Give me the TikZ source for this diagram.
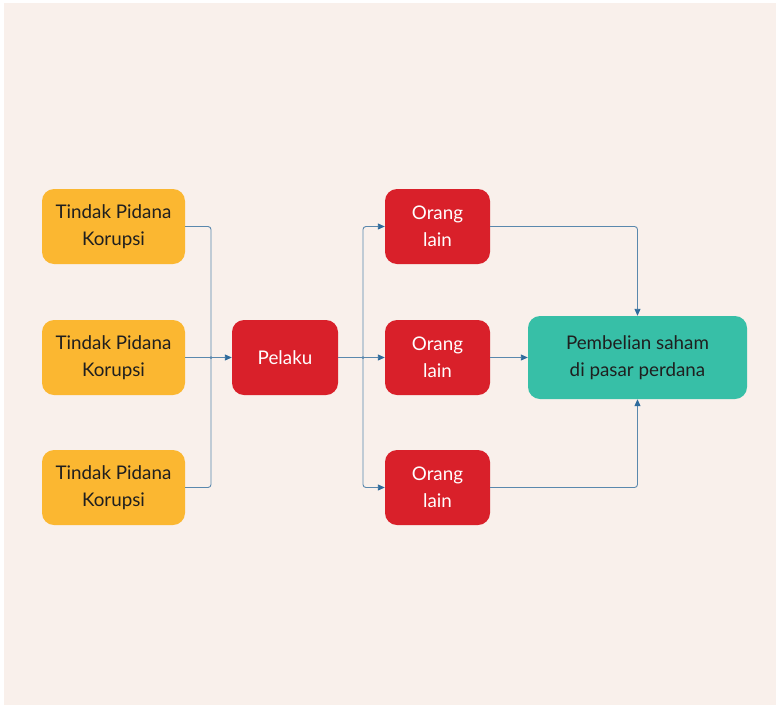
\documentclass[tikz,border=0pt]{standalone}
\usepackage{fontspec}
\setmainfont{Lato}
\usetikzlibrary{arrows.meta}
\definecolor{bgpaper}{HTML}{F9F0EB}
\definecolor{crimebox}{HTML}{FBB731}
\definecolor{actorbox}{HTML}{D9202A}
\definecolor{goalbox}{HTML}{37BFA7}
\definecolor{linkline}{HTML}{5A88AD}
\definecolor{linktip}{HTML}{2F6B9C}
\tikzset{
  x=1pt, y=-1pt,
  card/.style={rounded corners=12pt, minimum height=75pt, align=center,
    inner sep=0pt, font=\fontsize{18.8}{26.5}\selectfont},
  crime/.style={card, fill=crimebox, text=black!88, minimum width=143pt},
  actor/.style={card, fill=actorbox, text=white, minimum width=105pt},
  goal/.style={card, fill=goalbox, text=black!88, minimum width=219pt, minimum height=83pt},
  link/.style={draw=linkline, line width=0.9pt, rounded corners=3pt,
    -{Triangle[length=7pt,width=6pt,fill=linktip,color=linktip]}},
  plain/.style={draw=linkline, line width=0.9pt, rounded corners=3pt},
  joint/.style={circle, fill=linkline, inner sep=0pt, minimum size=3pt}
}
\begin{document}
\begin{tikzpicture}
  % paper
  \fill[white] (0,0) rectangle (776,707);
  \fill[bgpaper] (4,3) rectangle (776,705);
  \useasboundingbox (0,0) rectangle (776,707);

  % sources
  \node[crime] (k1) at (113.5,226.5) {Tindak Pidana\\Korupsi};
  \node[crime] (k2) at (113.5,357.5) {Tindak Pidana\\Korupsi};
  \node[crime] (k3) at (113.5,487.5) {Tindak Pidana\\Korupsi};

  % actor
  \node[actor, minimum width=106pt] (p) at (285,357.5) {Pelaku};

  % nominees
  \node[actor] (o1) at (437.5,226.5) {Orang\\lain};
  \node[actor] (o2) at (437.5,357.5) {Orang\\lain};
  \node[actor] (o3) at (437.5,487.5) {Orang\\lain};

  % target
  \node[goal] (g) at (637.5,357.5) {Pembelian saham\\di pasar perdana};

  % junction points
  \coordinate (jin) at (211,357.5);
  \coordinate (jout) at (363,357.5);

  % sources into the actor
  \draw[plain] (k1.east) -| (jin);
  \draw[plain] (k3.east) -| (jin);
  \draw[link] (k2.east) -- (p.west);
  \node[joint] at (jin) {};

  % actor out to nominees
  \draw[plain] (p.east) -- (jout);
  \draw[link] (jout) |- (o1.west);
  \draw[link] (jout) |- (o3.west);
  \draw[link] (jout) -- (o2.west);
  \node[joint] at (jout) {};

  % nominees into the purchase
  \draw[link] (o1.east) -| (g.north);
  \draw[link] (o3.east) -| (g.south);
  \draw[link] (o2.east) -- (g.west);
\end{tikzpicture}
\end{document}
